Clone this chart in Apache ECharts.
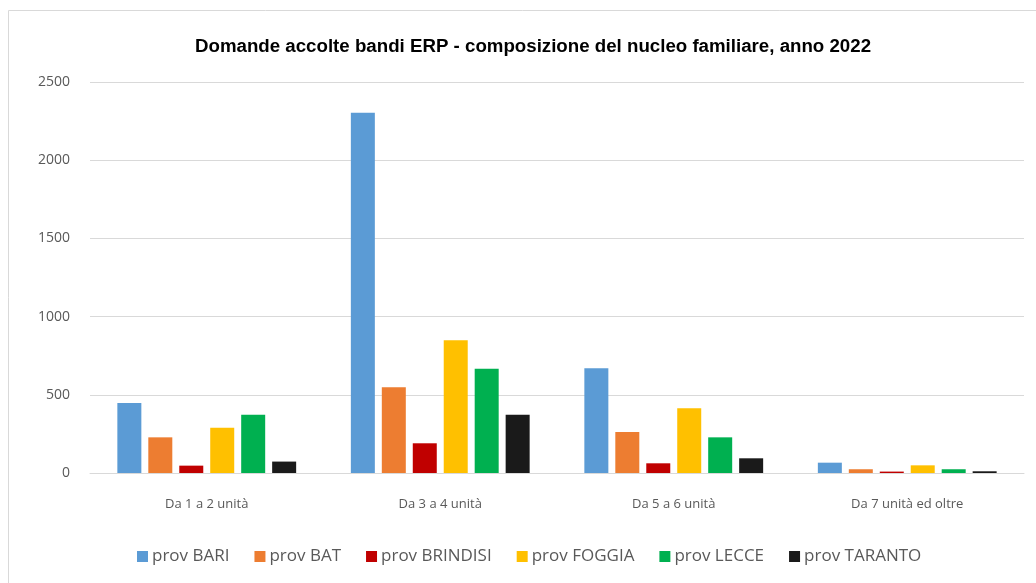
<!DOCTYPE html>
<html>
<head>
<meta charset="utf-8">
<script src="https://cdn.jsdelivr.net/npm/echarts@6/dist/echarts.min.js"></script>
<style>
  html, body { margin: 0; padding: 0; background: #fff; }
  #chart { width: 1036px; height: 583px; }
</style>
</head>
<body>
<div id="chart"></div>
<script>
var categories = ['Da 1 a 2 unità', 'Da 3 a 4 unità', 'Da 5 a 6 unità', 'Da 7 unità ed oltre']
var provinces = ['prov BARI', 'prov BAT', 'prov BRINDISI', 'prov FOGGIA', 'prov LECCE', 'prov TARANTO']
var colors = ['#5B9BD5', '#ED7D31', '#C00000', '#FFC000', '#00B050', '#1A1A1A']

var bari = [448, 2304, 669, 66]
var bat = [228, 548, 262, 24]
var brindisi = [47, 190, 62, 9]
var foggia = [290, 848, 414, 49]
var lecce = [373, 667, 228, 24]
var taranto = [73, 373, 94, 11]

var yTicks = [0, 500, 1000, 1500, 2000, 2500]

var values = [bari, bat, brindisi, foggia, lecce, taranto]

var chart = echarts.init(document.getElementById('chart'))

var series = provinces.map(function(name, i) {
  return {
    name: name,
    type: 'bar',
    data: values[i],
    barWidth: 24,
    barGap: '29%',
    itemStyle: { color: colors[i] }
  }
})

chart.setOption({
  animation: false,
  color: colors,
  title: {
    text: 'Domande accolte bandi ERP - composizione del nucleo familiare, anno 2022',
    left: 190,
    top: 32,
    textStyle: {
      fontFamily: 'Liberation Sans, sans-serif',
      fontSize: 18.7,
      fontWeight: 'bold',
      color: '#000'
    }
  },
  graphic: [{
    type: 'rect',
    shape: { x: 8.5, y: 10.5, width: 1040, height: 600 },
    style: { fill: 'none', stroke: '#D9D9D9', lineWidth: 1 },
    silent: true
  }],
  legend: {
    data: provinces,
    bottom: 13,
    left: 132,
    itemWidth: 11,
    itemHeight: 11,
    itemGap: 25,
    icon: 'rect',
    textStyle: {
      fontFamily: 'Open Sans, sans-serif',
      fontSize: 17,
      color: '#595959',
      padding: [0, 0, 0, -1]
    }
  },
  grid: {
    left: 90,
    right: 12,
    top: 82,
    bottom: 110
  },
  xAxis: {
    type: 'category',
    data: categories,
    axisTick: { show: false },
    axisLine: { lineStyle: { color: '#D9D9D9', width: 1 } },
    axisLabel: {
      margin: 25,
      fontFamily: 'Open Sans, sans-serif',
      fontSize: 13,
      color: '#595959'
    }
  },
  yAxis: {
    type: 'value',
    min: yTicks[0],
    max: yTicks[yTicks.length - 1],
    interval: 500,
    axisLine: { show: false },
    axisTick: { show: false },
    splitLine: { lineStyle: { color: '#D9D9D9', width: 1 } },
    axisLabel: {
      margin: 20,
      formatter: function(v) { return String(v) },
      fontFamily: 'Open Sans, sans-serif',
      fontSize: 14,
      color: '#595959'
    }
  },
  series: series
})
</script>
</body>
</html>
